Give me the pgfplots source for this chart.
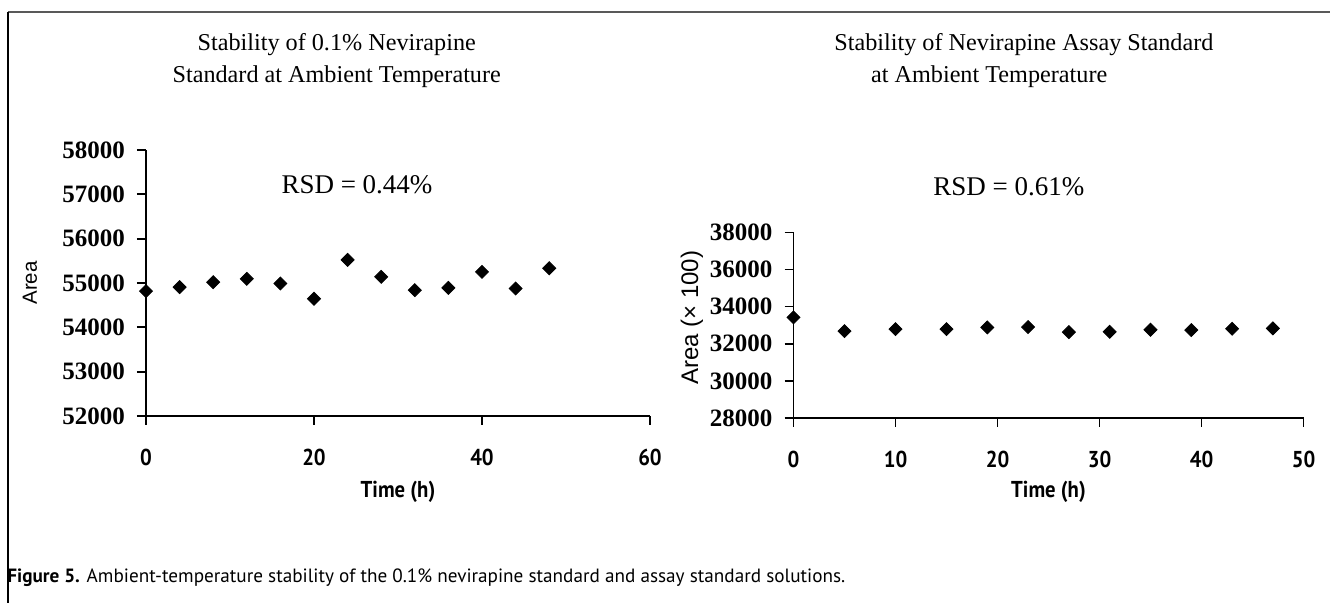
\documentclass[border=0pt]{standalone}
\usepackage{fontspec}
\setmainfont{Liberation Serif}
\newfontfamily\arialfont{Liberation Sans}
\newfontfamily\condsans[FakeStretch=0.9]{PT Sans}
\newfontfamily\capfont{PT Sans}
\usepackage{pgfplots}
\pgfplotsset{compat=1.18}

% 1 px of the reference = 0.5pt
\pgfplotsset{
  stab/.style={
    scale only axis, clip=false,
    axis lines=left, axis line style={-, line width=0.85pt},
    tick align=outside, major tick length=4.5pt,
    every tick/.style={black, line width=0.85pt},
    scaled ticks=false,
    /pgf/number format/.cd, fixed, 1000 sep={}, assume math mode=true,
    /pgfplots/.cd,
    yticklabel style={font=\bfseries\fontsize{12.5}{14}\selectfont, xshift=-2.5pt},
    xticklabel style={font=\condsans\bfseries\fontsize{11.5}{13}\selectfont,
      anchor=center, yshift=-16pt},
    xlabel style={font=\condsans\bfseries\fontsize{11.5}{13}\selectfont,
      anchor=center},
  },
  dia/.style={only marks, mark=square*, mark size=2.3pt,
    mark options={rotate=45, fill=black, draw=black}},
}

\begin{document}
\begin{tikzpicture}
\useasboundingbox (0,0) rectangle (665pt,-301.5pt);

% frame
\draw[line width=1.4pt, black!65] (4pt,-6pt) -- (665pt,-6pt);
\draw[line width=1pt, black] (4pt,-6pt) -- (4pt,-301.5pt);

% titles
\node[font=\fontsize{12.1}{13}\selectfont] at (168.35pt,-22.5pt) {Stability of 0.1\% Nevirapine};
\node[font=\fontsize{12.1}{13}\selectfont] at (168.35pt,-38.35pt) {Standard at Ambient Temperature};
\node[font=\fontsize{12.1}{13}\selectfont, anchor=west, inner sep=0pt] at (417pt,-22.5pt) {Stability of Nevirapine Assay Standard};
\node[font=\fontsize{12.1}{13}\selectfont, anchor=west, inner sep=0pt] at (435.35pt,-38.35pt) {at Ambient Temperature};

% left: 0.1% standard
\begin{axis}[stab,
  at={(73pt,-208pt)}, anchor=south west,
  width=252pt, height=133pt,
  xmin=0, xmax=60, ymin=52000, ymax=58000,
  xtick={0,20,40,60}, ytick={52000,53000,...,58000},
  xlabel={Time (h)}, ylabel={Area},
  xlabel style={at={([yshift=-38pt]axis description cs:0.5,0)}},
  ylabel style={font=\arialfont\fontsize{10.25}{12}\selectfont,
    at={([xshift=-58pt]axis description cs:0,0.5)}, anchor=center},
]
\addplot[dia] coordinates {
  (0,54816) (4,54906) (8,55018) (12,55094) (16,54989) (20,54644) (24,55521)
  (28,55139) (32,54839) (36,54891) (40,55251) (44,54876) (48,55333)
};
\end{axis}
\node[font=\fontsize{13.5}{15}\selectfont] at (178.5pt,-92.5pt) {RSD = 0.44\%};

% right: assay standard
\begin{axis}[stab,
  at={(396.75pt,-209pt)}, anchor=south west,
  width=255pt, height=92.8pt,
  xmin=0, xmax=50, ymin=28000, ymax=38000,
  xtick={0,10,...,50}, ytick={28000,30000,...,38000},
  xlabel={Time (h)}, ylabel={Area (× 100)},
  xlabel style={at={([yshift=-37pt]axis description cs:0.5,0)}},
  ylabel style={font=\arialfont\fontsize{12}{14}\selectfont,
    at={([xshift=-50.75pt]axis description cs:0,0.54)}, anchor=center},
]
\addplot[dia] coordinates {
  (0,33422) (5,32681) (10,32789) (15,32790) (19,32881) (23,32899)
  (27,32627) (31,32645) (35,32754) (39,32735) (43,32808) (47,32827)
};
\end{axis}
\node[font=\fontsize{13.5}{15}\selectfont] at (504.4pt,-93.35pt) {RSD = 0.61\%};

% caption
\node[anchor=base west, inner sep=0pt, font=\capfont\fontsize{9.6}{11}\selectfont]
  at (3.5pt,-291.5pt) {\textbf{Figure 5.} Ambient-temperature stability of the 0.1\% nevirapine standard and assay standard solutions.};
\end{tikzpicture}
\end{document}
